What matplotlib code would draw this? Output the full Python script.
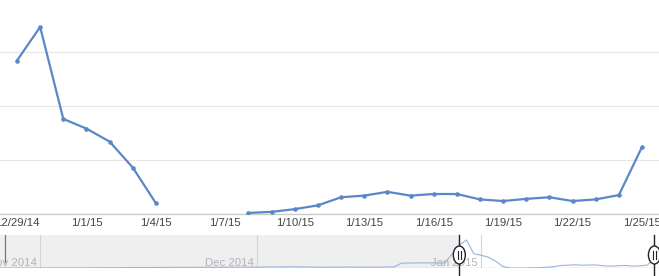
import numpy as np
import matplotlib
matplotlib.use("Agg")
import matplotlib.pyplot as plt
import matplotlib.dates as mdates
from matplotlib.patches import Ellipse, Rectangle
import datetime as dt

plt.rcParams['font.family'] = ['Liberation Sans', 'DejaVu Sans']

# ---- main series (daily) ----
dates = [dt.date(2014, 12, 29) + dt.timedelta(days=i) for i in range(28)]
values = [142, 173, 88, 79, 67, 43, 10,
          np.nan, np.nan, np.nan,
          1, 2, 4.5, 8, 15.5, 17, 20.5, 17, 18.5, 18.5,
          13.5, 12, 14, 15.5, 12, 13.5, 17.5, 62]
tick_dates = [dt.date(2014, 12, 29) + dt.timedelta(days=3 * i) for i in range(10)]
tick_labels = ["12/29/14", "1/1/15", "1/4/15", "1/7/15", "1/10/15",
               "1/13/15", "1/16/15", "1/19/15", "1/22/15", "1/25/15"]

# ---- overview series (before the selected range) ----
ov_prior_dates = [dt.date(2014, 10, 26), dt.date(2014, 11, 8), dt.date(2014, 11, 15),
                  dt.date(2014, 11, 22), dt.date(2014, 11, 29), dt.date(2014, 12, 6),
                  dt.date(2014, 12, 10), dt.date(2014, 12, 14), dt.date(2014, 12, 18),
                  dt.date(2014, 12, 20), dt.date(2014, 12, 21), dt.date(2014, 12, 24),
                  dt.date(2014, 12, 27)]
ov_prior_values = [0, 1, 3, 4, 5, 7, 5, 6, 5, 7, 30, 32, 31]
month_labels = ["Nov 2014", "Dec 2014", "Jan 2015"]
month_starts = [dt.date(2014, 11, 1), dt.date(2014, 12, 1), dt.date(2015, 1, 1)]

W, H = 659, 276
fig = plt.figure(figsize=(W / 100, H / 100), dpi=100)

def fy(py):
    return 1 - py / H

line_color = '#5b87c9'

# main axes: top at y=0, baseline at y=214
ax = fig.add_axes([0, fy(214), 1, 214 / H])
x = mdates.date2num(dates)
ax.plot(x, values, color=line_color, lw=1.6, marker='o', ms=3.3,
        markeredgewidth=0, solid_capstyle='round', zorder=3)
ax.set_xlim(x[0] - 0.734, x[-1] + 0.734)
ax.set_ylim(0, 198)
ax.set_yticks([0, 50, 100, 150])
ax.yaxis.grid(True, color='#e6e6e6', lw=0.8)
ax.set_yticklabels([])
ax.tick_params(axis='y', length=0)
for s in ['top', 'left', 'right']:
    ax.spines[s].set_visible(False)
ax.spines['bottom'].set_color('#cccccc')
ax.spines['bottom'].set_linewidth(1)
ax.set_xticks(mdates.date2num(tick_dates))
ax.set_xticklabels(tick_labels, fontsize=8.2, color='#444444')
ax.tick_params(axis='x', length=0, pad=3)
ax.set_axisbelow(True)

# overview axes: y 235..268
ov = fig.add_axes([0, fy(268), 1, 33 / H])
d1 = mdates.date2num(dt.date(2014, 12, 1))
ppd = (481 - 257) / 31.0
ov_x0 = d1 - 257 / ppd
ov_x1 = ov_x0 + W / ppd
ov.set_xlim(ov_x0, ov_x1)
ov.set_ylim(0, 204)
ov.axis('off')
ypp = 204 / 33.0
ov_dates = list(mdates.date2num(ov_prior_dates)) + list(x)
ov_vals = list(ov_prior_values) + [0 if np.isnan(v) else v for v in values]
handle_l = mdates.date2num(dates[0])
handle_r = mdates.date2num(dates[-1])
ov.add_patch(Rectangle((ov_x0, 0), handle_l - ov_x0, 204, facecolor='#efefef',
                       edgecolor='none', zorder=0))
for ms in month_starts:
    m = mdates.date2num(ms)
    ov.axvline(m, color='#d4d4d4', lw=0.8, zorder=1)
for lab, ms in zip(month_labels, month_starts):
    m = mdates.date2num(ms)
    ov.text(m - 3 / ppd, 30, lab, ha='right', va='center', fontsize=8.2,
            color='#b4b4b4', zorder=2)
ov.plot(ov_dates, ov_vals, color='#98b4dc', lw=0.8, zorder=3, clip_on=True)
ov.axhline(0, color='#cfcfcf', lw=1, zorder=2)
ov.plot([ov_x0 + 5 / ppd] * 2, [204, 40], color='#777777', lw=0.9, zorder=4)

# handles
for hx in [handle_l, handle_r]:
    ov.plot([hx, hx], [204, -7 * ypp], color='#222222', lw=1, zorder=5, clip_on=False)
    ov.add_patch(Ellipse((hx, 13 * ypp), 12 / ppd, 18 * ypp,
                         facecolor='white', edgecolor='#222222', lw=1, zorder=6,
                         clip_on=False))
    ov.plot([hx - 1.4 / ppd] * 2, [9 * ypp, 17 * ypp], color='#222222', lw=0.8, zorder=7,
            clip_on=False)
    ov.plot([hx + 1.4 / ppd] * 2, [9 * ypp, 17 * ypp], color='#222222', lw=0.8, zorder=7,
            clip_on=False)

fig.savefig('out.png', dpi=100)
